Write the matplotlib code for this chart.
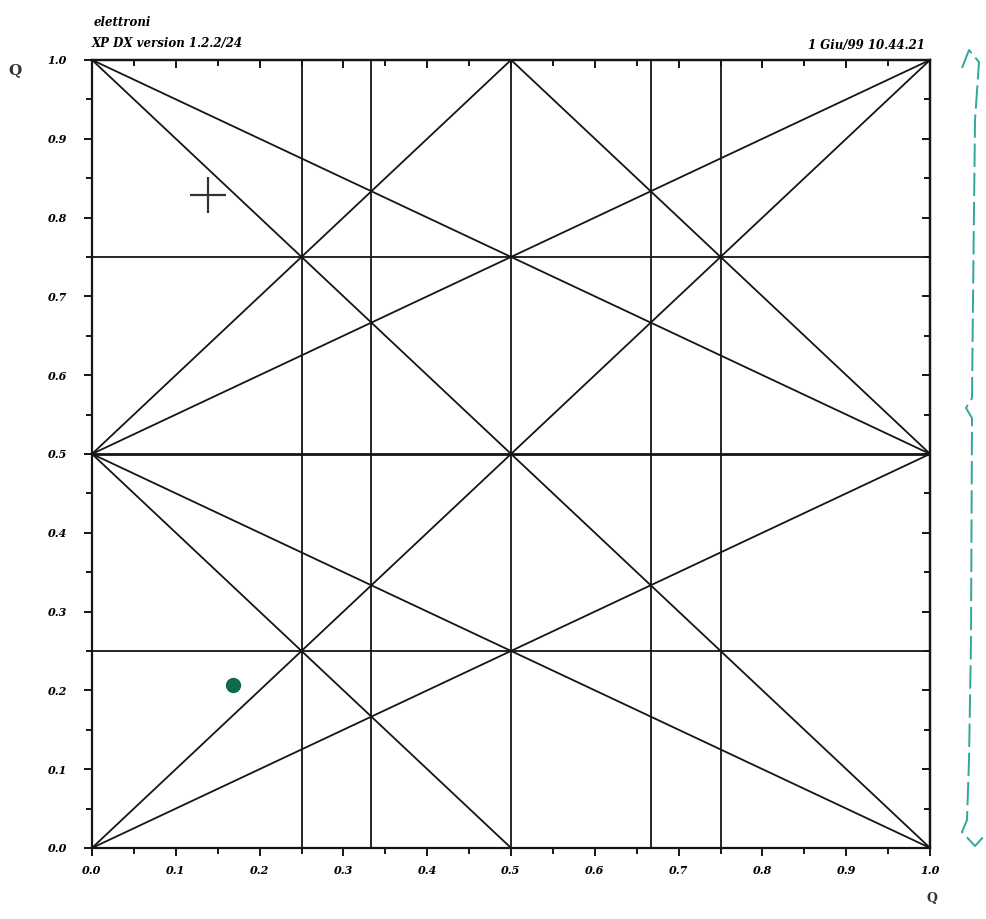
import numpy as np
import matplotlib.pyplot as plt
from matplotlib.lines import Line2D

# straight segments of the diagram: (x0, y0, x1, y1)
seg_x0 = [0.0, 0.0, 0.0, 0.0, 0.0, 0.0, 0.0, 0.0, 0.5]
seg_y0 = [0.0, 1.0, 0.0, 1.0, 0.5, 0.5, 0.5, 0.5, 1.0]
seg_x1 = [1.0, 1.0, 1.0, 1.0, 1.0, 1.0, 0.5, 0.5, 1.0]
seg_y1 = [1.0, 0.0, 0.5, 0.5, 1.0, 0.0, 1.0, 0.0, 0.5]

# full-width horizontal and full-height vertical guide lines
h_levels = [0.25, 0.5, 0.75]
v_levels = [0.25, 1 / 3, 0.5, 2 / 3, 0.75]

# markers
cross_x, cross_y = [0.138], [0.829]
dot_x, dot_y = [0.168], [0.207]

tick_vals = np.round(np.arange(0, 1.01, 0.1), 1)
tick_labels = [f"{v:.1f}" for v in tick_vals]
minor_vals = np.arange(0.05, 1, 0.1)

header_left = ["elettroni", "XP DX version 1.2.2/24"]
header_right = "1 Giu/99 10.44.21"

fig = plt.figure(figsize=(9.86, 9.19), dpi=100)
ax = fig.add_axes([0.0933, 0.0773, 0.850, 0.8575])

ink = "#151515"
for x0, y0, x1, y1 in zip(seg_x0, seg_y0, seg_x1, seg_y1):
    ax.plot([x0, x1], [y0, y1], color=ink, lw=1.3)
for h in h_levels:
    ax.axhline(h, color=ink, lw=2.0 if h == 0.5 else 1.3)
for v in v_levels:
    ax.axvline(v, color=ink, lw=1.3)

ax.plot(cross_x, cross_y, marker="+", markersize=26, mew=1.6, color="#333333", ls="none")
ax.plot(dot_x, dot_y, marker="o", markersize=10, color="#0d6b4a", ls="none")

ax.set_xlim(0, 1)
ax.set_ylim(0, 1)
tfont = dict(family="DejaVu Serif", style="italic", weight="bold", size=8)
ax.set_xticks(tick_vals)
ax.set_yticks(tick_vals)
ax.set_xticklabels(tick_labels, fontdict=tfont)
ax.set_yticklabels(tick_labels, fontdict=tfont)
ax.set_xticks(minor_vals, minor=True)
ax.set_yticks(minor_vals, minor=True)
ax.tick_params(which="both", direction="out", color=ink, width=1.4)
ax.tick_params(which="major", length=6)
ax.tick_params(axis="x", which="major", pad=6)
ax.tick_params(axis="y", which="major", pad=12)
ax.tick_params(which="minor", length=4)
for s in ax.spines.values():
    s.set_linewidth(1.6)
    s.set_color(ink)

# inward ticks along the top and right edges
top = ax.secondary_xaxis("top")
right = ax.secondary_yaxis("right")
for sec in (top, right):
    sec.set_ticks(tick_vals)
    sec.set_ticks(minor_vals, minor=True)
    sec.tick_params(which="both", direction="in", color=ink, width=1.4,
                    labeltop=False, labelright=False)
    sec.tick_params(which="major", length=6)
    sec.tick_params(which="minor", length=4)
    for s in sec.spines.values():
        s.set_linewidth(1.6)

# axis names
fig.text(15 / 986, 1 - 70 / 919, "Q", fontsize=11, fontweight="bold",
         family="DejaVu Serif", ha="center", va="center", color="#333333")
fig.text(932 / 986, 1 - 898 / 919, "Q", fontsize=9, fontweight="bold",
         family="DejaVu Serif", ha="center", va="center", color="#333333")

# header
hfont = dict(fontsize=8.5, fontweight="bold", style="italic", family="DejaVu Serif")
fig.text(122 / 986, 1 - 22 / 919, header_left[0], ha="center", va="center", **hfont)
fig.text(92 / 986, 1 - 44 / 919, header_left[1], ha="left", va="center", **hfont)
fig.text(925 / 986, 1 - 45 / 919, header_right, ha="right", va="center", **hfont)

# green brace on the right
bx = np.array([962, 969, 979, 975, 973, 972, 966, 972, 971, 969, 967, 962, 975, 986])
by = np.array([68, 50, 62, 120, 300, 398, 408, 418, 640, 760, 820, 832, 846, 834])
fig.add_artist(Line2D(bx / 986, 1 - by / 919, color="#2fa89a", lw=1.4,
                      ls=(0, (12, 3)), transform=fig.transFigure))

fig.savefig("out.png", dpi=100)
